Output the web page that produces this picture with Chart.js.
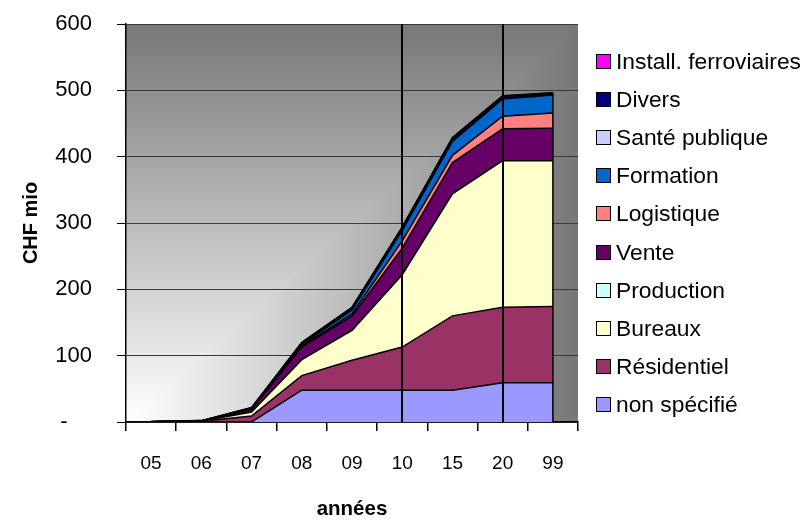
<!DOCTYPE html>
<html lang="fr">
<head>
<meta charset="utf-8">
<title>Investissements par affectation</title>
<script src="https://cdn.jsdelivr.net/npm/chart.js"></script>
<style>
  body { margin: 0; background: #fff; font-family: "Liberation Sans", Arial, sans-serif; }
  #wrap { position: relative; width: 807px; height: 527px; }
  #legend { position: absolute; left: 596px; top: 42px; margin: 0; padding: 0; list-style: none; }
  #legend li { display: flex; align-items: center; height: 38.2px; font-size: 22.8px; color: #000; white-space: nowrap; }
  #legend .box { width: 15px; height: 15px; border: 1px solid #000; box-sizing: border-box; margin-right: 5px; }
</style>
</head>
<body>
<div id="wrap">
  <canvas id="chart" width="807" height="527"></canvas>
  <ul id="legend"></ul>
</div>
<script>
const years = ["05", "06", "07", "08", "09", "10", "15", "20", "99"];

// values in CHF mio, stacked from bottom to top
const nonSpecifie = [0, 0, 0, 48, 48, 48, 48, 59, 59];
const residentiel = [0.3, 1, 9, 22, 45, 65, 112, 114, 115];
const bureaux = [0, 0.3, 6, 24, 45, 109, 184, 221, 220];
const production = [0, 0, 0, 0, 0, 0, 0, 0, 0];
const vente = [0, 0.3, 4, 19, 22, 40, 47, 48, 49];
const logistique = [0, 0, 0.5, 1.5, 3, 11, 11, 19, 23];
const formation = [0, 0, 0.5, 2, 6, 16, 21, 26, 27];
const santePublique = [0, 0, 0, 0.5, 0.5, 1, 1, 1, 0.5];
const divers = [0.3, 0.5, 1.5, 2.5, 3, 3, 4, 3, 2.5];
const installFerroviaires = [0, 0, 0.5, 0.5, 0.5, 1, 1, 1, 0.5];

const seriesNames = ["non spécifié", "Résidentiel", "Bureaux", "Production", "Vente",
  "Logistique", "Formation", "Santé publique", "Divers", "Install. ferroviaires"];
const seriesValues = [nonSpecifie, residentiel, bureaux, production, vente,
  logistique, formation, santePublique, divers, installFerroviaires];
const seriesColors = ["#9999FF", "#993366", "#FFFFCC", "#CCFFFF", "#660066",
  "#FF8080", "#0066CC", "#CCCCFF", "#000080", "#FF00FF"];

const yTicks = [0, 100, 200, 300, 400, 500, 600];
const markerYears = ["10", "20"];

Chart.defaults.font.family = "'Liberation Sans', Arial, sans-serif";
Chart.defaults.color = "#000";

// Excel style "from corner" fill behind the plot
const plotBackground = {
  id: "plotBackground",
  beforeDraw(chart) {
    const { ctx, chartArea: a } = chart;
    ctx.save();
    const gx = ctx.createLinearGradient(a.left, 0, a.right, 0);
    gx.addColorStop(0, "#ffffff");
    gx.addColorStop(1, "#777777");
    ctx.fillStyle = gx;
    ctx.fillRect(a.left, a.top, a.right - a.left, a.bottom - a.top);
    ctx.beginPath();
    ctx.moveTo(a.left, a.bottom);
    ctx.lineTo(a.left, a.top);
    ctx.lineTo(a.right, a.top);
    ctx.closePath();
    ctx.clip();
    const gy = ctx.createLinearGradient(0, a.bottom, 0, a.top);
    gy.addColorStop(0, "#ffffff");
    gy.addColorStop(1, "#777777");
    ctx.fillStyle = gy;
    ctx.fillRect(a.left, a.top, a.right - a.left, a.bottom - a.top);
    ctx.restore();
  }
};

const markerLines = {
  id: "markerLines",
  afterDatasetsDraw(chart) {
    const { ctx, chartArea: a, scales: { x, y } } = chart;
    ctx.save();
    ctx.strokeStyle = "#000";
    // closing edge of the stacked areas
    const last = years.length - 1;
    const total = seriesValues.reduce((s, arr) => s + arr[last], 0);
    ctx.lineWidth = 1.5;
    ctx.beginPath();
    ctx.moveTo(x.getPixelForValue(last), y.getPixelForValue(0));
    ctx.lineTo(x.getPixelForValue(last), y.getPixelForValue(total));
    ctx.stroke();
    ctx.lineWidth = 2;
    markerYears.forEach(yr => {
      const px = Math.round(x.getPixelForValue(years.indexOf(yr)));
      ctx.beginPath();
      ctx.moveTo(px, a.top);
      ctx.lineTo(px, a.bottom);
      ctx.stroke();
    });
    ctx.restore();
  }
};

const chart = new Chart(document.getElementById("chart"), {
  type: "line",
  data: {
    labels: years,
    datasets: seriesNames.map((name, i) => ({
      label: name,
      data: seriesValues[i],
      backgroundColor: seriesColors[i],
      borderColor: "#000",
      borderWidth: 1.5,
      fill: i === 0 ? "origin" : "-1",
      pointRadius: 0,
      tension: 0
    }))
  },
  options: {
    responsive: false,
    animation: false,
    layout: { padding: { top: 24, right: 229, left: 0, bottom: 0 } },
    plugins: {
      legend: { display: false },
      tooltip: { enabled: false }
    },
    scales: {
      x: {
        offset: true,
        ticks: { font: { size: 19 }, padding: 21, autoSkip: false, maxRotation: 0 },
        grid: { offset: true, drawOnChartArea: false, tickColor: "#000", tickLength: 9, lineWidth: 1.5 },
        border: { color: "#000", width: 1.5 },
        title: { display: true, text: "années", font: { size: 20.5, weight: "bold" }, padding: { bottom: 5 } },
        afterFit(scale) { scale.height = 105; }
      },
      y: {
        stacked: true,
        min: yTicks[0],
        max: yTicks[yTicks.length - 1],
        afterBuildTicks(scale) { scale.ticks = yTicks.map(v => ({ value: v })); },
        ticks: { font: { size: 22 }, padding: 25, callback: v => (v === 0 ? "-    " : v) },
        grid: { color: "#3a3a3a", lineWidth: 1, tickColor: "#000", tickLength: 9 },
        border: { color: "#000", width: 1.5 },
        title: { display: true, text: "CHF mio", font: { size: 20, weight: "bold" }, padding: { top: 19 } },
        afterFit(scale) {
          scale.width = 126;
          scale.paddingTop = 0;
          scale.paddingBottom = 0;
        }
      }
    }
  },
  plugins: [plotBackground, markerLines]
});

// legend listed top series first, like the original
const legend = document.getElementById("legend");
const items = Chart.defaults.plugins.legend.labels.generateLabels(chart).reverse();
items.forEach(item => {
  const li = document.createElement("li");
  li.innerHTML = `<span class="box" style="background:${item.fillStyle}"></span>${item.text}`;
  legend.appendChild(li);
});
</script>
</body>
</html>
